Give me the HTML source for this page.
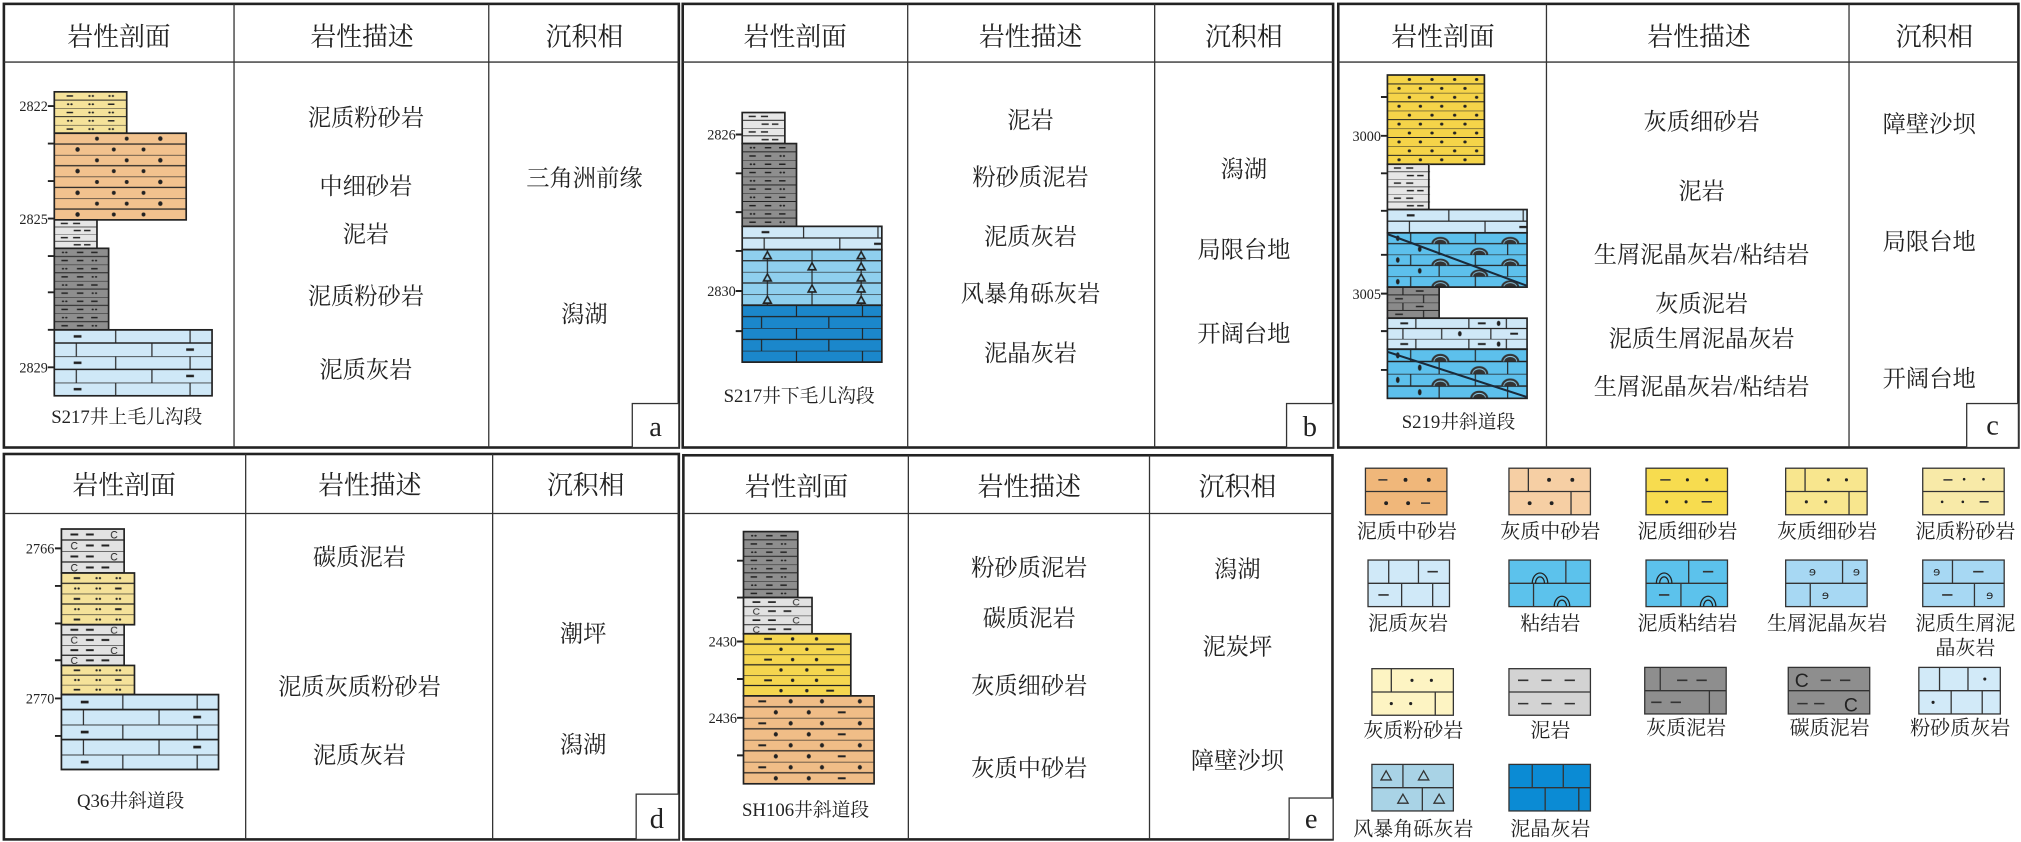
<!DOCTYPE html>
<html><head><meta charset="utf-8">
<style>
html,body{margin:0;padding:0;background:#fff;}
svg{display:block;}
text{font-family:"Liberation Serif","Noto Serif CJK SC",serif;fill:#222;}
.h{font-size:20px;text-anchor:middle;}
.t{font-size:18px;text-anchor:middle;}
.d{font-size:11px;text-anchor:end;}
.cap{font-size:14.5px;text-anchor:middle;}
.lg{font-size:15.5px;text-anchor:middle;}
.let{font-size:22px;text-anchor:middle;}
.box{fill:none;stroke:#222;stroke-width:2;}
.div{stroke:#333;stroke-width:1;}
.ol{fill:none;stroke:#222;stroke-width:1.3;}
.tk{stroke:#222;stroke-width:1.5;}
</style></head><body>
<svg width="2021" height="842" viewBox="0 0 1563 651" preserveAspectRatio="none" xmlns="http://www.w3.org/2000/svg">
<defs>
<g id="pr"><circle cx="-1.3" cy="0" r="0.9" fill="#222"/><circle cx="1.3" cy="0" r="0.9" fill="#222"/></g>
<pattern id="silt" patternUnits="userSpaceOnUse" width="56" height="16">
<rect width="56" height="16" fill="#f5e29a"/>
<path d="M0 0H56M0 8H56" stroke="#222" stroke-width="0.9"/>
<path d="M9.5 4H14.5M41.5 12H46.5" stroke="#222" stroke-width="1.5"/>
<use href="#pr" x="28.5" y="4"/><use href="#pr" x="44" y="4"/><use href="#pr" x="12" y="12"/><use href="#pr" x="28.5" y="12"/>
</pattern>
<pattern id="sandA" patternUnits="userSpaceOnUse" width="102" height="16">
<rect width="102" height="16" fill="#f2c28e"/>
<path d="M0 0H102M0 8H102" stroke="#222" stroke-width="0.9"/>
<circle cx="33" cy="4" r="1.5" fill="#222"/><circle cx="56" cy="4" r="1.5" fill="#222"/><circle cx="82" cy="4" r="1.7" fill="#222"/>
<circle cx="18" cy="12" r="1.7" fill="#222"/><circle cx="46" cy="12" r="1.5" fill="#222"/><circle cx="69" cy="12" r="1.5" fill="#222"/>
</pattern>
<pattern id="mud" patternUnits="userSpaceOnUse" width="33" height="16">
<rect width="33" height="16" fill="#e6e6e6"/>
<path d="M0 0H33M0 8H33" stroke="#222" stroke-width="0.9"/>
<path d="M5 4H10.5M14.5 4H20M15 12H20.5M23 12H28" stroke="#222" stroke-width="1.6"/>
</pattern>
<pattern id="dsilt" patternUnits="userSpaceOnUse" width="42" height="16">
<rect width="42" height="16" fill="#8e8e8e"/>
<path d="M0 0H42M0 8H42" stroke="#222" stroke-width="0.9"/>
<path d="M17.5 4H22.5M28.5 4H33.5M5.5 12H10.5M17.5 12H22.5" stroke="#222" stroke-width="1.5"/>
<use href="#pr" x="8" y="4"/><use href="#pr" x="31" y="12"/>
</pattern>
<pattern id="lgc" patternUnits="userSpaceOnUse" width="48.5" height="16">
<rect width="48.5" height="16" fill="#e2e2e2"/>
<path d="M0 0H48.5M0 8H48.5" stroke="#222" stroke-width="0.9"/>
<path d="M7 4H13M19 4H25M19 12H25M31 12H37" stroke="#222" stroke-width="1.5"/>
<text x="37.8" y="7" style="font-family:'Liberation Sans',sans-serif;font-size:8px">C</text>
<text x="7" y="15" style="font-family:'Liberation Sans',sans-serif;font-size:8px">C</text>
</pattern>
<pattern id="lime" patternUnits="userSpaceOnUse" width="122" height="16">
<rect width="122" height="16" fill="#cfe8f7"/>
<path d="M0 0H122M0 8H122M47.5 0V8M105 0V8M17 8V16M75.5 8V16" stroke="#222" stroke-width="0.9"/>
<path d="M15 4H21M102 12H108" stroke="#222" stroke-width="1.5"/>
</pattern>
<pattern id="limeS" patternUnits="userSpaceOnUse" width="108" height="16">
<rect width="108" height="16" fill="#cfe8f7"/>
<path d="M0 0H108M0 8H108M22 0V8M63 0V8M92 0V8M12 8V16M42 8V16M80 8V16" stroke="#222" stroke-width="0.9"/>
<path d="M10 4H16M70 4H76M95 12H101" stroke="#222" stroke-width="1.5"/>
<ellipse cx="86" cy="4" rx="1.4" ry="2" fill="#222"/><ellipse cx="56" cy="12" rx="1.4" ry="2" fill="#222"/>
</pattern>
<pattern id="brec" patternUnits="userSpaceOnUse" width="108" height="16">
<rect width="108" height="16" fill="#8fcfee"/>
<path d="M0 0H108M0 8H108M19.5 0V16M54 0V16M92 0V16" stroke="#222" stroke-width="0.9"/>
<path d="M19.5 1.5L22.5 6.5H16.5Z M92 1.5L95 6.5H89Z M54 9.5L57 14.5H51Z M92 9.5L95 14.5H89Z" fill="#8fcfee" stroke="#222" stroke-width="1.2"/>
</pattern>
<pattern id="dblue" patternUnits="userSpaceOnUse" width="108" height="16">
<rect width="108" height="16" fill="#1b87cb"/>
<path d="M0 0H108M0 8H108M42 0V8M93 0V8M15 8V16M67 8V16" stroke="#222" stroke-width="0.9"/>
</pattern>
<pattern id="fsand" patternUnits="userSpaceOnUse" width="75" height="16">
<rect width="75" height="16" fill="#f5d449"/>
<path d="M0 0H75M0 8H75" stroke="#222" stroke-width="0.9"/>
<circle cx="17" cy="4" r="1.3" fill="#222"/><circle cx="34.5" cy="4" r="1.3" fill="#222"/><circle cx="52" cy="4" r="1.3" fill="#222"/><circle cx="69" cy="4" r="1.3" fill="#222"/>
<circle cx="9" cy="12" r="1.3" fill="#222"/><circle cx="25.5" cy="12" r="1.3" fill="#222"/><circle cx="42" cy="12" r="1.3" fill="#222"/><circle cx="60" cy="12" r="1.3" fill="#222"/>
</pattern>
<pattern id="fsandE" patternUnits="userSpaceOnUse" width="83" height="16">
<rect width="83" height="16" fill="#f5d64f"/>
<path d="M0 0H83M0 8H83" stroke="#222" stroke-width="0.9"/>
<path d="M16 4H22M64 12H70" stroke="#222" stroke-width="1.5"/>
<circle cx="38" cy="4" r="1.3" fill="#222"/><circle cx="56.5" cy="4" r="1.3" fill="#222"/><circle cx="29" cy="12" r="1.3" fill="#222"/><circle cx="49" cy="12" r="1.3" fill="#222"/>
</pattern>
<pattern id="sandE" patternUnits="userSpaceOnUse" width="101" height="16">
<rect width="101" height="16" fill="#f0bd87"/>
<path d="M0 0H101M0 8H101" stroke="#222" stroke-width="0.9"/>
<path d="M11.5 4H17.5M73 12H79" stroke="#222" stroke-width="1.5"/>
<circle cx="36.5" cy="4" r="1.6" fill="#222"/><circle cx="60.7" cy="4" r="1.6" fill="#222"/><circle cx="90" cy="4" r="1.6" fill="#222"/>
<circle cx="25" cy="12" r="1.6" fill="#222"/><circle cx="50.5" cy="12" r="1.6" fill="#222"/>
</pattern>
<pattern id="bind" patternUnits="userSpaceOnUse" width="108" height="16">
<rect width="108" height="16" fill="#5dc0ec"/>
<path d="M0 0H108M0 8H108M18 0V8M68 0V8M40 8V16M93 8V16" stroke="#222" stroke-width="0.9"/>
<path d="M34 8A7 5 0 0 1 48 8Z M88 8A7 5 0 0 1 102 8Z M64 16A7 5 0 0 1 78 16Z" fill="#333"/>
<path d="M36 8A5 3.3 0 0 1 46 8 M90 8A5 3.3 0 0 1 100 8 M66 16A5 3.3 0 0 1 76 16" fill="none" stroke="#8fd3f2" stroke-width="0.6"/>
<ellipse cx="8" cy="4" rx="1.4" ry="2" fill="#222"/><ellipse cx="25" cy="12" rx="1.4" ry="2" fill="#222"/>
</pattern>
<pattern id="dmud" patternUnits="userSpaceOnUse" width="40" height="16">
<rect width="40" height="16" fill="#8a8a8a"/>
<path d="M0 0H40M0 8H40M12 0V8M28 8V16" stroke="#222" stroke-width="0.9"/>
<path d="M22 4H28M6 12H12" stroke="#222" stroke-width="1.5"/>
</pattern>
</defs>
<rect width="1563" height="651" fill="#fff"/>

<!-- ===== Panel a ===== -->
<rect class="box" x="3" y="3" width="522" height="343"/>
<line class="div" x1="3" y1="48" x2="525" y2="48"/>
<line class="div" x1="181" y1="3" x2="181" y2="346"/>
<line class="div" x1="378" y1="3" x2="378" y2="346"/>
<text class="h" x="92" y="35">岩性剖面</text>
<text class="h" x="280" y="35">岩性描述</text>
<text class="h" x="452" y="35">沉积相</text>
<g transform="translate(42,71) scale(1,0.8)"><rect width="56" height="40" fill="url(#silt)"/></g><rect class="ol" x="42" y="71" width="56" height="32"/>
<g transform="translate(42,103) scale(1,1.047)"><rect width="102" height="64" fill="url(#sandA)"/></g><rect class="ol" x="42" y="103" width="102" height="67"/>
<g transform="translate(42,170) scale(1,0.6875)"><rect width="33" height="32" fill="url(#mud)"/></g><rect class="ol" x="42" y="170" width="33" height="22"/>
<g transform="translate(42,192) scale(1,0.7875)"><rect width="42" height="80" fill="url(#dsilt)"/></g><rect class="ol" x="42" y="192" width="42" height="63"/>
<g transform="translate(42,255) scale(1,1.275)"><rect width="122" height="40" fill="url(#lime)"/></g><rect class="ol" x="42" y="255" width="122" height="51"/>
<path class="tk" d="M37 82H42M37 111H42M37 140H42M37 169H42M37 198H42M37 226H42M37 255H42M37 284H42"/>
<text class="d" x="37" y="86">2822</text><text class="d" x="37" y="173">2825</text><text class="d" x="37" y="288">2829</text>
<text class="cap" x="98" y="327">S217井上毛儿沟段</text>
<text class="t" x="283" y="97">泥质粉砂岩</text>
<text class="t" x="283" y="150">中细砂岩</text>
<text class="t" x="283" y="187">泥岩</text>
<text class="t" x="283" y="235">泥质粉砂岩</text>
<text class="t" x="283" y="292">泥质灰岩</text>
<text class="t" x="452" y="144">三角洲前缘</text>
<text class="t" x="452" y="249">潟湖</text>
<rect x="489" y="312" width="36" height="34" fill="#fff" stroke="#333" stroke-width="1"/>
<text class="let" x="507" y="337">a</text>

<!-- ===== Panel b ===== -->
<rect class="box" x="528" y="3" width="503" height="343"/>
<line class="div" x1="528" y1="48" x2="1031" y2="48"/>
<line class="div" x1="702" y1="3" x2="702" y2="346"/>
<line class="div" x1="893" y1="3" x2="893" y2="346"/>
<text class="h" x="615" y="35">岩性剖面</text>
<text class="h" x="797" y="35">岩性描述</text>
<text class="h" x="962" y="35">沉积相</text>
<g transform="translate(574,87) scale(1,0.75)"><rect width="33" height="32" fill="url(#mud)"/></g><rect class="ol" x="574" y="87" width="33" height="24"/>
<g transform="translate(574,111) scale(1,0.8)"><rect width="42" height="80" fill="url(#dsilt)"/></g><rect class="ol" x="574" y="111" width="42" height="64"/>
<g transform="translate(574,175) scale(1,1.125)"><rect width="108" height="16" fill="url(#lime)"/></g><rect class="ol" x="574" y="175" width="108" height="18"/>
<g transform="translate(574,193) scale(1,1.075)"><rect width="108" height="40" fill="url(#brec)"/></g><rect class="ol" x="574" y="193" width="108" height="43"/>
<g transform="translate(574,236) scale(1,1.1)"><rect width="108" height="40" fill="url(#dblue)"/></g><rect class="ol" x="574" y="236" width="108" height="44"/>
<path class="tk" d="M569 104H574M569 134H574M569 164H574M569 194H574M569 225H574M569 256H574"/>
<text class="d" x="569" y="108">2826</text><text class="d" x="569" y="229">2830</text>
<text class="cap" x="618" y="311">S217井下毛儿沟段</text>
<text class="t" x="797" y="99">泥岩</text>
<text class="t" x="797" y="143">粉砂质泥岩</text>
<text class="t" x="797" y="189">泥质灰岩</text>
<text class="t" x="797" y="233">风暴角砾灰岩</text>
<text class="t" x="797" y="279">泥晶灰岩</text>
<text class="t" x="962" y="137">潟湖</text>
<text class="t" x="962" y="199">局限台地</text>
<text class="t" x="962" y="264">开阔台地</text>
<rect x="995" y="312" width="36" height="34" fill="#fff" stroke="#333" stroke-width="1"/>
<text class="let" x="1013" y="337">b</text>

<!-- ===== Panel c ===== -->
<rect class="box" x="1035" y="3" width="526" height="343"/>
<line class="div" x1="1035" y1="48" x2="1561" y2="48"/>
<line class="div" x1="1196" y1="3" x2="1196" y2="346"/>
<line class="div" x1="1430" y1="3" x2="1430" y2="346"/>
<text class="h" x="1116" y="35">岩性剖面</text>
<text class="h" x="1314" y="35">岩性描述</text>
<text class="h" x="1496" y="35">沉积相</text>
<g transform="translate(1073,58) scale(1,0.8625)"><rect width="75" height="80" fill="url(#fsand)"/></g><rect class="ol" x="1073" y="58" width="75" height="69"/>
<g transform="translate(1073,127) scale(1,0.729)"><rect width="33" height="48" fill="url(#mud)"/></g><rect class="ol" x="1073" y="127" width="32" height="35"/>
<g transform="translate(1073,162) scale(1,1.125)"><rect width="108" height="16" fill="url(#lime)"/></g><rect class="ol" x="1073" y="162" width="108" height="18"/>
<g transform="translate(1073,180) scale(1,1.05)"><rect width="108" height="40" fill="url(#bind)"/></g><rect class="ol" x="1073" y="180" width="108" height="42"/>
<line x1="1073" y1="181" x2="1181" y2="221" stroke="#1a2a3a" stroke-width="1.6"/>
<g transform="translate(1073,222) scale(1,0.75)"><rect width="40" height="32" fill="url(#dmud)"/></g><rect class="ol" x="1073" y="222" width="40" height="24"/>
<g transform="translate(1073,246) scale(1,1)"><rect width="108" height="24" fill="url(#limeS)"/></g><rect class="ol" x="1073" y="246" width="108" height="24"/>
<g transform="translate(1073,270) scale(1,1.1875)"><rect width="108" height="32" fill="url(#bind)"/></g><rect class="ol" x="1073" y="270" width="108" height="38"/>
<line x1="1073" y1="272" x2="1181" y2="307" stroke="#1a2a3a" stroke-width="1.6"/>
<path class="tk" d="M1068 75H1073M1068 105H1073M1068 134H1073M1068 163H1073M1068 197H1073M1068 227H1073M1068 256H1073M1068 286H1073"/>
<text class="d" x="1068" y="109">3000</text><text class="d" x="1068" y="231">3005</text>
<text class="cap" x="1128" y="331">S219井斜道段</text>
<text class="t" x="1316" y="100">灰质细砂岩</text>
<text class="t" x="1316" y="154">泥岩</text>
<text class="t" x="1316" y="203">生屑泥晶灰岩/粘结岩</text>
<text class="t" x="1316" y="241">灰质泥岩</text>
<text class="t" x="1316" y="268">泥质生屑泥晶灰岩</text>
<text class="t" x="1316" y="305">生屑泥晶灰岩/粘结岩</text>
<text class="t" x="1492" y="102">障壁沙坝</text>
<text class="t" x="1492" y="193">局限台地</text>
<text class="t" x="1492" y="299">开阔台地</text>
<rect x="1521" y="312" width="40" height="34" fill="#fff" stroke="#333" stroke-width="1"/>
<text class="let" x="1541" y="336">c</text>

<!-- ===== Panel d ===== -->
<rect class="box" x="3" y="351" width="522" height="298"/>
<line class="div" x1="3" y1="397" x2="525" y2="397"/>
<line class="div" x1="190" y1="351" x2="190" y2="649"/>
<line class="div" x1="381" y1="351" x2="381" y2="649"/>
<text class="h" x="96" y="382">岩性剖面</text>
<text class="h" x="286" y="382">岩性描述</text>
<text class="h" x="453" y="382">沉积相</text>
<g transform="translate(47.5,409) scale(1,1.0625)"><rect width="48.5" height="32" fill="url(#lgc)"/></g><rect class="ol" x="47.5" y="409" width="48.5" height="34"/>
<g transform="translate(47.5,443) scale(1,1)"><rect width="56.5" height="40" fill="url(#silt)"/></g><rect class="ol" x="47.5" y="443" width="56.5" height="40"/>
<g transform="translate(47.5,483) scale(1,0.984)"><rect width="48.5" height="32" fill="url(#lgc)"/></g><rect class="ol" x="47.5" y="483" width="48.5" height="31.5"/>
<g transform="translate(47.5,514.5) scale(1,0.9375)"><rect width="56.5" height="24" fill="url(#silt)"/></g><rect class="ol" x="47.5" y="514.5" width="56.5" height="22.5"/>
<g transform="translate(47.5,537) scale(1,1.45)"><rect width="121.5" height="40" fill="url(#lime)"/></g><rect class="ol" x="47.5" y="537" width="121.5" height="58"/>
<path class="tk" d="M42.5 424H47.5M42.5 453H47.5M42.5 482H47.5M42.5 510.5H47.5M42.5 540H47.5M42.5 569H47.5"/>
<text class="d" x="42" y="428">2766</text><text class="d" x="42" y="544">2770</text>
<text class="cap" x="101" y="624">Q36井斜道段</text>
<text class="t" x="278" y="437">碳质泥岩</text>
<text class="t" x="278" y="537">泥质灰质粉砂岩</text>
<text class="t" x="278" y="590">泥质灰岩</text>
<text class="t" x="451" y="496">潮坪</text>
<text class="t" x="451" y="582">潟湖</text>
<rect x="492" y="614" width="33" height="35" fill="#fff" stroke="#333" stroke-width="1"/>
<text class="let" x="508" y="640">d</text>

<!-- ===== Panel e ===== -->
<rect class="box" x="528.5" y="352" width="502" height="297"/>
<line class="div" x1="528.5" y1="397" x2="1030.5" y2="397"/>
<line class="div" x1="702.5" y1="352" x2="702.5" y2="649"/>
<line class="div" x1="889" y1="352" x2="889" y2="649"/>
<text class="h" x="616" y="383">岩性剖面</text>
<text class="h" x="796" y="383">岩性描述</text>
<text class="h" x="957" y="383">沉积相</text>
<g transform="translate(575,411) scale(1,0.797)"><rect width="42" height="64" fill="url(#dsilt)"/></g><rect class="ol" x="575" y="411" width="42" height="51"/>
<g transform="translate(575,462) scale(1,0.875)"><rect width="53" height="32" fill="url(#lgc)"/></g><rect class="ol" x="575" y="462" width="53" height="28"/>
<g transform="translate(575,490) scale(1,1)"><rect width="83" height="48" fill="url(#fsandE)"/></g><rect class="ol" x="575" y="490" width="83" height="48"/>
<g transform="translate(575,538) scale(1,1.0625)"><rect width="101" height="64" fill="url(#sandE)"/></g><rect class="ol" x="575" y="538" width="101" height="68"/>
<path class="tk" d="M570 433.5H575M570 462H575M570 496H575M570 525H575M570 555H575M570 584H575"/>
<text class="d" x="570" y="500">2430</text><text class="d" x="570" y="559">2436</text>
<text class="cap" x="623" y="631">SH106井斜道段</text>
<text class="t" x="796" y="445">粉砂质泥岩</text>
<text class="t" x="796" y="484">碳质泥岩</text>
<text class="t" x="796" y="536">灰质细砂岩</text>
<text class="t" x="796" y="600">灰质中砂岩</text>
<text class="t" x="957" y="446">潟湖</text>
<text class="t" x="957" y="506">泥炭坪</text>
<text class="t" x="957" y="594">障壁沙坝</text>
<rect x="997" y="617" width="34" height="32" fill="#fff" stroke="#333" stroke-width="1"/>
<text class="let" x="1014" y="640">e</text>

<!-- ===== Legend ===== -->
<g stroke="#333" stroke-width="1">
<!-- row1 -->
<g transform="translate(1056,362)">
<rect width="63" height="36" fill="#f0b77a"/><path d="M0 18H63" fill="none"/>
<path d="M10 9H17M43 27H50" stroke-width="1.2"/>
<circle cx="31" cy="9" r="1.5" fill="#222" stroke="none"/><circle cx="49" cy="9" r="1.5" fill="#222" stroke="none"/><circle cx="16" cy="27" r="1.5" fill="#222" stroke="none"/><circle cx="33" cy="27" r="1.5" fill="#222" stroke="none"/>
</g>
<g transform="translate(1167,362)">
<rect width="63" height="36" fill="#f6cfa4"/><path d="M0 18H63M15 0V18M48 18V36" fill="none"/>
<circle cx="31" cy="9" r="1.5" fill="#222" stroke="none"/><circle cx="49" cy="9" r="1.5" fill="#222" stroke="none"/><circle cx="16" cy="27" r="1.5" fill="#222" stroke="none"/><circle cx="33" cy="27" r="1.5" fill="#222" stroke="none"/>
</g>
<g transform="translate(1273,362)">
<rect width="63" height="36" fill="#f7dc4f"/><path d="M0 18H63" fill="none"/>
<path d="M11 9H19M43 26H51" stroke-width="1.2"/>
<circle cx="32" cy="9" r="1.2" fill="#222" stroke="none"/><circle cx="47" cy="9" r="1.2" fill="#222" stroke="none"/><circle cx="16" cy="26" r="1.2" fill="#222" stroke="none"/><circle cx="31" cy="26" r="1.2" fill="#222" stroke="none"/>
</g>
<g transform="translate(1381,362)">
<rect width="63" height="36" fill="#f8e68e"/><path d="M0 18H63M15 0V18M49 18V36" fill="none"/>
<circle cx="33" cy="9" r="1.2" fill="#222" stroke="none"/><circle cx="47" cy="9" r="1.2" fill="#222" stroke="none"/><circle cx="16" cy="26" r="1.2" fill="#222" stroke="none"/><circle cx="31" cy="26" r="1.2" fill="#222" stroke="none"/>
</g>
<g transform="translate(1487,362)">
<rect width="63" height="36" fill="#f8eaa8"/><path d="M0 18H63" fill="none"/>
<path d="M16 9H23M44 26H51" stroke-width="1.2"/>
<circle cx="32" cy="8.5" r="1" fill="#222" stroke="none"/><circle cx="47" cy="8.5" r="1" fill="#222" stroke="none"/><circle cx="15" cy="26" r="1" fill="#222" stroke="none"/><circle cx="31" cy="26" r="1" fill="#222" stroke="none"/>
</g>
<!-- row2 -->
<g transform="translate(1058,433)">
<rect width="63" height="36" fill="#d0e9f8"/><path d="M0 18H63M16 0V18M39 0V18M26 18V36M50 18V36" fill="none"/>
<path d="M46 9H54M8 27H16" stroke-width="1.2"/>
</g>
<g transform="translate(1167,433)">
<rect width="63" height="36" fill="#5cc2ec"/><path d="M0 18H63M44 0V18M19 18V36" fill="none"/>
<path d="M18 18A6 8 0 0 1 30 18M20.5 18A3.5 5 0 0 1 27.5 18M35 36A6 8 0 0 1 47 36M37.5 36A3.5 5 0 0 1 44.5 36" fill="none" stroke="#222"/>
</g>
<g transform="translate(1273,433)">
<rect width="63" height="36" fill="#5cc2ec"/><path d="M0 18H63M33 0V18M27 18V36" fill="none"/>
<path d="M8 18A6 8 0 0 1 20 18M10.5 18A3.5 5 0 0 1 17.5 18M42 36A6 8 0 0 1 54 36M44.5 36A3.5 5 0 0 1 51.5 36" fill="none" stroke="#222"/>
<path d="M44 9H52M10 27H18" stroke-width="1.2"/>
</g>
<g transform="translate(1381,433)">
<rect width="63" height="36" fill="#a7d8f3"/><path d="M0 18H63M44 0V18M19 18V36" fill="none"/>
<text x="18" y="12" style="font-size:9px;font-family:'DejaVu Sans',sans-serif" stroke="none">ɘ</text><text x="52" y="12" style="font-size:9px;font-family:'DejaVu Sans',sans-serif" stroke="none">ɘ</text><text x="28" y="30" style="font-size:9px;font-family:'DejaVu Sans',sans-serif" stroke="none">ɘ</text>
</g>
<g transform="translate(1487,433)">
<rect width="63" height="36" fill="#a7d8f3"/><path d="M0 18H63M23 0V18M40 18V36" fill="none"/>
<text x="8" y="12" style="font-size:9px;font-family:'DejaVu Sans',sans-serif" stroke="none">ɘ</text><text x="49" y="30" style="font-size:9px;font-family:'DejaVu Sans',sans-serif" stroke="none">ɘ</text>
<path d="M39 9H47M15 27H23" stroke-width="1.2"/>
</g>
<!-- row3 -->
<g transform="translate(1061,517)">
<rect width="63" height="36" fill="#fdf4c3"/><path d="M0 18H63M15 0V18M49 18V36" fill="none"/>
<circle cx="31" cy="9" r="1.2" fill="#222" stroke="none"/><circle cx="46" cy="9" r="1.2" fill="#222" stroke="none"/><circle cx="15" cy="27" r="1.2" fill="#222" stroke="none"/><circle cx="30" cy="27" r="1.2" fill="#222" stroke="none"/>
</g>
<g transform="translate(1167,517)">
<rect width="63" height="36" fill="#d3d3d3"/><path d="M0 18H63" fill="none"/>
<path d="M7 9H15M25 9H33M43 9H51M7 27H15M25 27H33M43 27H51" stroke-width="1.2"/>
</g>
<g transform="translate(1272,516)">
<rect width="63" height="36" fill="#8e8e8e"/><path d="M0 18H63M12 0V18M50 18V36" fill="none"/>
<path d="M25 10H33M40 10H48M5 27H13M20 27H28" stroke-width="1.2"/>
</g>
<g transform="translate(1383,516)">
<rect width="63" height="36" fill="#8e8e8e"/><path d="M0 18H63" fill="none"/>
<path d="M25 10H33M40 10H48M7 28H15M20 28H28" stroke-width="1.2"/>
<text x="5" y="15" style="font-size:15px;font-family:'Liberation Sans',sans-serif" stroke="none" fill="#222">C</text>
<text x="43" y="34" style="font-size:15px;font-family:'Liberation Sans',sans-serif" stroke="none" fill="#222">C</text>
</g>
<g transform="translate(1484,516)">
<rect width="63" height="36" fill="#d2eaf8"/><path d="M0 18H63M16 0V18M38 0V18M25 18V36M49 18V36" fill="none"/>
<circle cx="51" cy="9" r="1.2" fill="#222" stroke="none"/><circle cx="11" cy="27" r="1.2" fill="#222" stroke="none"/>
</g>
<!-- row4 -->
<g transform="translate(1061,591)">
<rect width="63" height="36" fill="#a9d3e6"/><path d="M0 18H63M24 0V18M39 18V36" fill="none"/>
<path d="M11 5L15 12H7ZM40 5L44 12H36ZM24 23L28 30H20ZM52 23L56 30H48Z" fill="none"/>
</g>
<g transform="translate(1167,591)">
<rect width="63" height="36" fill="#0b8bd4"/><path d="M0 18H63M18 0V18M42 0V18M28 18V36M54 18V36" fill="none"/>
</g>
</g>
<text class="lg" x="1088" y="416">泥质中砂岩</text>
<text class="lg" x="1199" y="416">灰质中砂岩</text>
<text class="lg" x="1305" y="416">泥质细砂岩</text>
<text class="lg" x="1413" y="416">灰质细砂岩</text>
<text class="lg" x="1520" y="416">泥质粉砂岩</text>
<text class="lg" x="1089" y="487">泥质灰岩</text>
<text class="lg" x="1199" y="487">粘结岩</text>
<text class="lg" x="1305" y="487">泥质粘结岩</text>
<text class="lg" x="1413" y="487">生屑泥晶灰岩</text>
<text class="lg" x="1520" y="487">泥质生屑泥</text>
<text class="lg" x="1520" y="506">晶灰岩</text>
<text class="lg" x="1093" y="570">灰质粉砂岩</text>
<text class="lg" x="1199" y="570">泥岩</text>
<text class="lg" x="1304" y="568">灰质泥岩</text>
<text class="lg" x="1415" y="568">碳质泥岩</text>
<text class="lg" x="1516" y="568">粉砂质灰岩</text>
<text class="lg" x="1093" y="646">风暴角砾灰岩</text>
<text class="lg" x="1199" y="646">泥晶灰岩</text>
</svg>
</body></html>
